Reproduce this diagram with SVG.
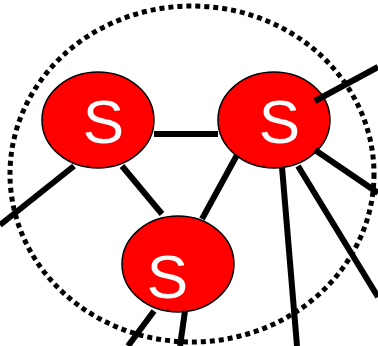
<svg xmlns="http://www.w3.org/2000/svg" width="378" height="346" viewBox="0 0 378 346">
<style>
.node{fill:#ff0000;stroke:#000;stroke-width:1.5}
.lbl{fill:#fff;font-family:"Liberation Sans",Arial,sans-serif;font-size:62px;text-anchor:middle}
.edge{stroke:#000;stroke-width:6;fill:none}
.boundary{fill:none;stroke:#000;stroke-width:5;stroke-dasharray:5 4}
</style>
<rect width="378" height="346" fill="#fff"/>
<ellipse class="boundary" cx="192" cy="174" rx="182" ry="168"/>
<g id="n1"><ellipse class="node" cx="98" cy="120" rx="56" ry="48"/><text class="lbl" x="103.5" y="143">S</text></g>
<g id="n2"><ellipse class="node" cx="274" cy="120" rx="56" ry="48"/><text class="lbl" x="279.5" y="143">S</text></g>
<g id="n3"><ellipse class="node" cx="178" cy="264" rx="56" ry="48"/><text class="lbl" x="167.5" y="298">S</text></g>
<g id="connectors">
<line class="edge" x1="154" y1="134" x2="218" y2="134"/>
<line class="edge" x1="122" y1="166" x2="162" y2="214"/>
<line class="edge" x1="237" y1="155" x2="202" y2="219"/>
<line class="edge" x1="74" y1="166" x2="0" y2="225"/>
<line class="edge" x1="154" y1="311" x2="128" y2="346"/>
<line class="edge" x1="185" y1="311" x2="180" y2="346"/>
<line class="edge" x1="315" y1="101" x2="378" y2="67"/>
<line class="edge" x1="315" y1="150" x2="378" y2="193"/>
<line class="edge" x1="282" y1="167" x2="297" y2="346"/>
<line class="edge" x1="298" y1="166" x2="378" y2="297"/>
</g>
</svg>
